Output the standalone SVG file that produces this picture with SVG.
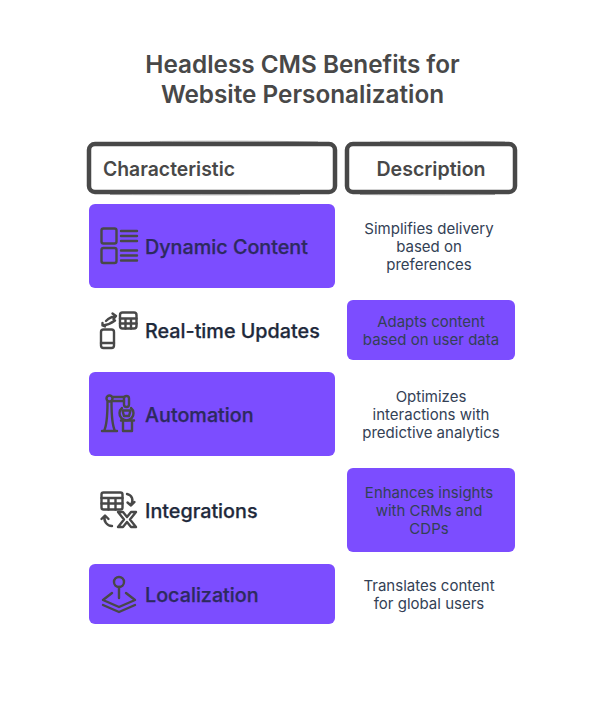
<svg xmlns="http://www.w3.org/2000/svg" width="612" height="714" viewBox="0 0 612 714">
<style>
text{font-family:Inter,"Liberation Sans",sans-serif}
.title{font-size:24.300px;font-weight:600;fill:#484848;text-anchor:middle}
.head{font-size:19.600px;font-weight:600;fill:#484848}
.label{font-size:19.750px;font-weight:500;stroke-width:.25px;fill:#1e293b;stroke:#1e293b}
.label.on{fill:#2d2a5e;stroke:#2d2a5e}
.desc{font-size:15px;fill:#334155;text-anchor:middle}
.purple{fill:#7c4dff}
.hbox{fill:#fff;stroke:#484848;stroke-width:4.500}
.sk{fill:none;stroke:#484848;stroke-width:1;stroke-opacity:.45}
.ic{fill:none;stroke:#484848;stroke-width:2.400;stroke-linecap:round;stroke-linejoin:round}
</style>
<rect width="612" height="714" fill="#fff"/>
<g id="title">
<text class="title" x="302.500" y="73">Headless CMS Benefits for</text>
<text class="title" x="302.500" y="103">Website Personalization</text>
</g>
<g id="header-characteristic">
<rect class="hbox" x="89" y="144" width="246" height="48" rx="6"/>
<path class="sk" d="M150 141.500C210 141 270 141 318 142M110 194.500C170 195 230 195 300 194.500"/>
<text class="head" x="103" y="176" textLength="132" lengthAdjust="spacingAndGlyphs">Characteristic</text>
</g>
<g id="header-description">
<rect class="hbox" x="347" y="144" width="168" height="48" rx="6"/>
<path class="sk" d="M380 141.500C430 141 470 141 505 142M360 194.500C410 195 450 195 495 194.500"/>
<text class="head" x="431" y="176" text-anchor="middle">Description</text>
</g>
<g id="dynamic-content">
<rect class="purple" x="89" y="204" width="246" height="84" rx="6"/>
<g class="ic">
<rect x="101.500" y="228.500" width="15" height="15" rx="2"/>
<rect x="101.500" y="248" width="15" height="15" rx="2"/>
<path d="M121 231H137M121 236H137M121 241H137M121 250.500H137M121 255.500H137M121 260.500H137"/>
</g>
<text class="label on" x="145" y="254">Dynamic Content</text>
</g>
<g id="simplifies">
<text class="desc" x="429" y="234">Simplifies delivery</text>
<text class="desc" x="429" y="252">based on</text>
<text class="desc" x="429" y="270">preferences</text>
</g>
<g id="real-time-updates">
<g class="ic">
<rect x="101" y="329.500" width="13" height="18.500" rx="2.500"/>
<path d="M101 343H114"/>
<rect x="120" y="312.500" width="16.500" height="16" rx="2.500"/>
<path d="M120 318.500H136.500M125.500 318.500V328.500M131 318.500V328.500M120 323.500H136.500"/>
<path d="M106 321C109 318 112 316.500 116 316M112.500 313.500L116 316L113.500 319M102.500 323L102.500 325.500L105 326.500M103 325.500C107 325 111 323.500 115 320.500"/>
</g>
<text class="label" x="145" y="338">Real-time Updates</text>
</g>
<g id="adapts">
<rect class="purple" x="347" y="300" width="168" height="60" rx="6"/>
<text class="desc" x="431" y="327">Adapts content</text>
<text class="desc" x="431" y="345">based on user data</text>
</g>
<g id="automation">
<rect class="purple" x="89" y="372" width="246" height="84" rx="6"/>
<g class="ic">
<path d="M102 431H117M104 431C107 425 107.500 415 107.500 402M115 431C112 425 111.500 415 111.500 402"/>
<circle cx="109.500" cy="398.500" r="3"/>
<path d="M112.500 397H124M112.500 401H124"/>
<rect x="124" y="396" width="5" height="11" rx="2.500"/>
<path d="M122 408A7 7 0 1 0 131 408"/>
<path d="M122.500 410.500H130.500L129 416H124Z"/>
<path d="M121 420.500H134M123 420.500V431H132V420.500"/>
</g>
<text class="label on" x="145" y="422">Automation</text>
</g>
<g id="optimizes">
<text class="desc" x="431" y="402">Optimizes</text>
<text class="desc" x="431" y="420">interactions with</text>
<text class="desc" x="431" y="438">predictive analytics</text>
</g>
<g id="integrations">
<g class="ic">
<rect x="101.500" y="492.500" width="21" height="17" rx="2"/>
<path d="M101.500 498H122.500M101.500 503.500H122.500M108.500 498V509.500M115.500 498V509.500"/>
<path d="M127 494C132 495 134 500 131 505M127.500 502.500L131 505.500L134.500 502"/>
<path d="M112 526C107 526 103 521 105 516M101.500 519L105 515.500L108.500 519"/>
<path d="M118 512H123L127 517L131 512H136L130 519.500L136 527H131L127 522L123 527H118L124 519.500Z"/>
</g>
<text class="label" x="145" y="518">Integrations</text>
</g>
<g id="enhances">
<rect class="purple" x="347" y="468" width="168" height="84" rx="6"/>
<text class="desc" x="429" y="498">Enhances insights</text>
<text class="desc" x="429" y="516">with CRMs and</text>
<text class="desc" x="429" y="534">CDPs</text>
</g>
<g id="localization">
<rect class="purple" x="89" y="564" width="246" height="60" rx="6"/>
<g class="ic">
<circle cx="119" cy="582" r="5"/>
<path d="M119 587V598"/>
<path d="M112 593L103 600L119 607L135 600L126 593"/>
<path d="M103 605L119 612L135 605"/>
</g>
<text class="label on" x="145" y="602">Localization</text>
</g>
<g id="translates">
<text class="desc" x="429" y="591">Translates content</text>
<text class="desc" x="429" y="609">for global users</text>
</g>
</svg>
